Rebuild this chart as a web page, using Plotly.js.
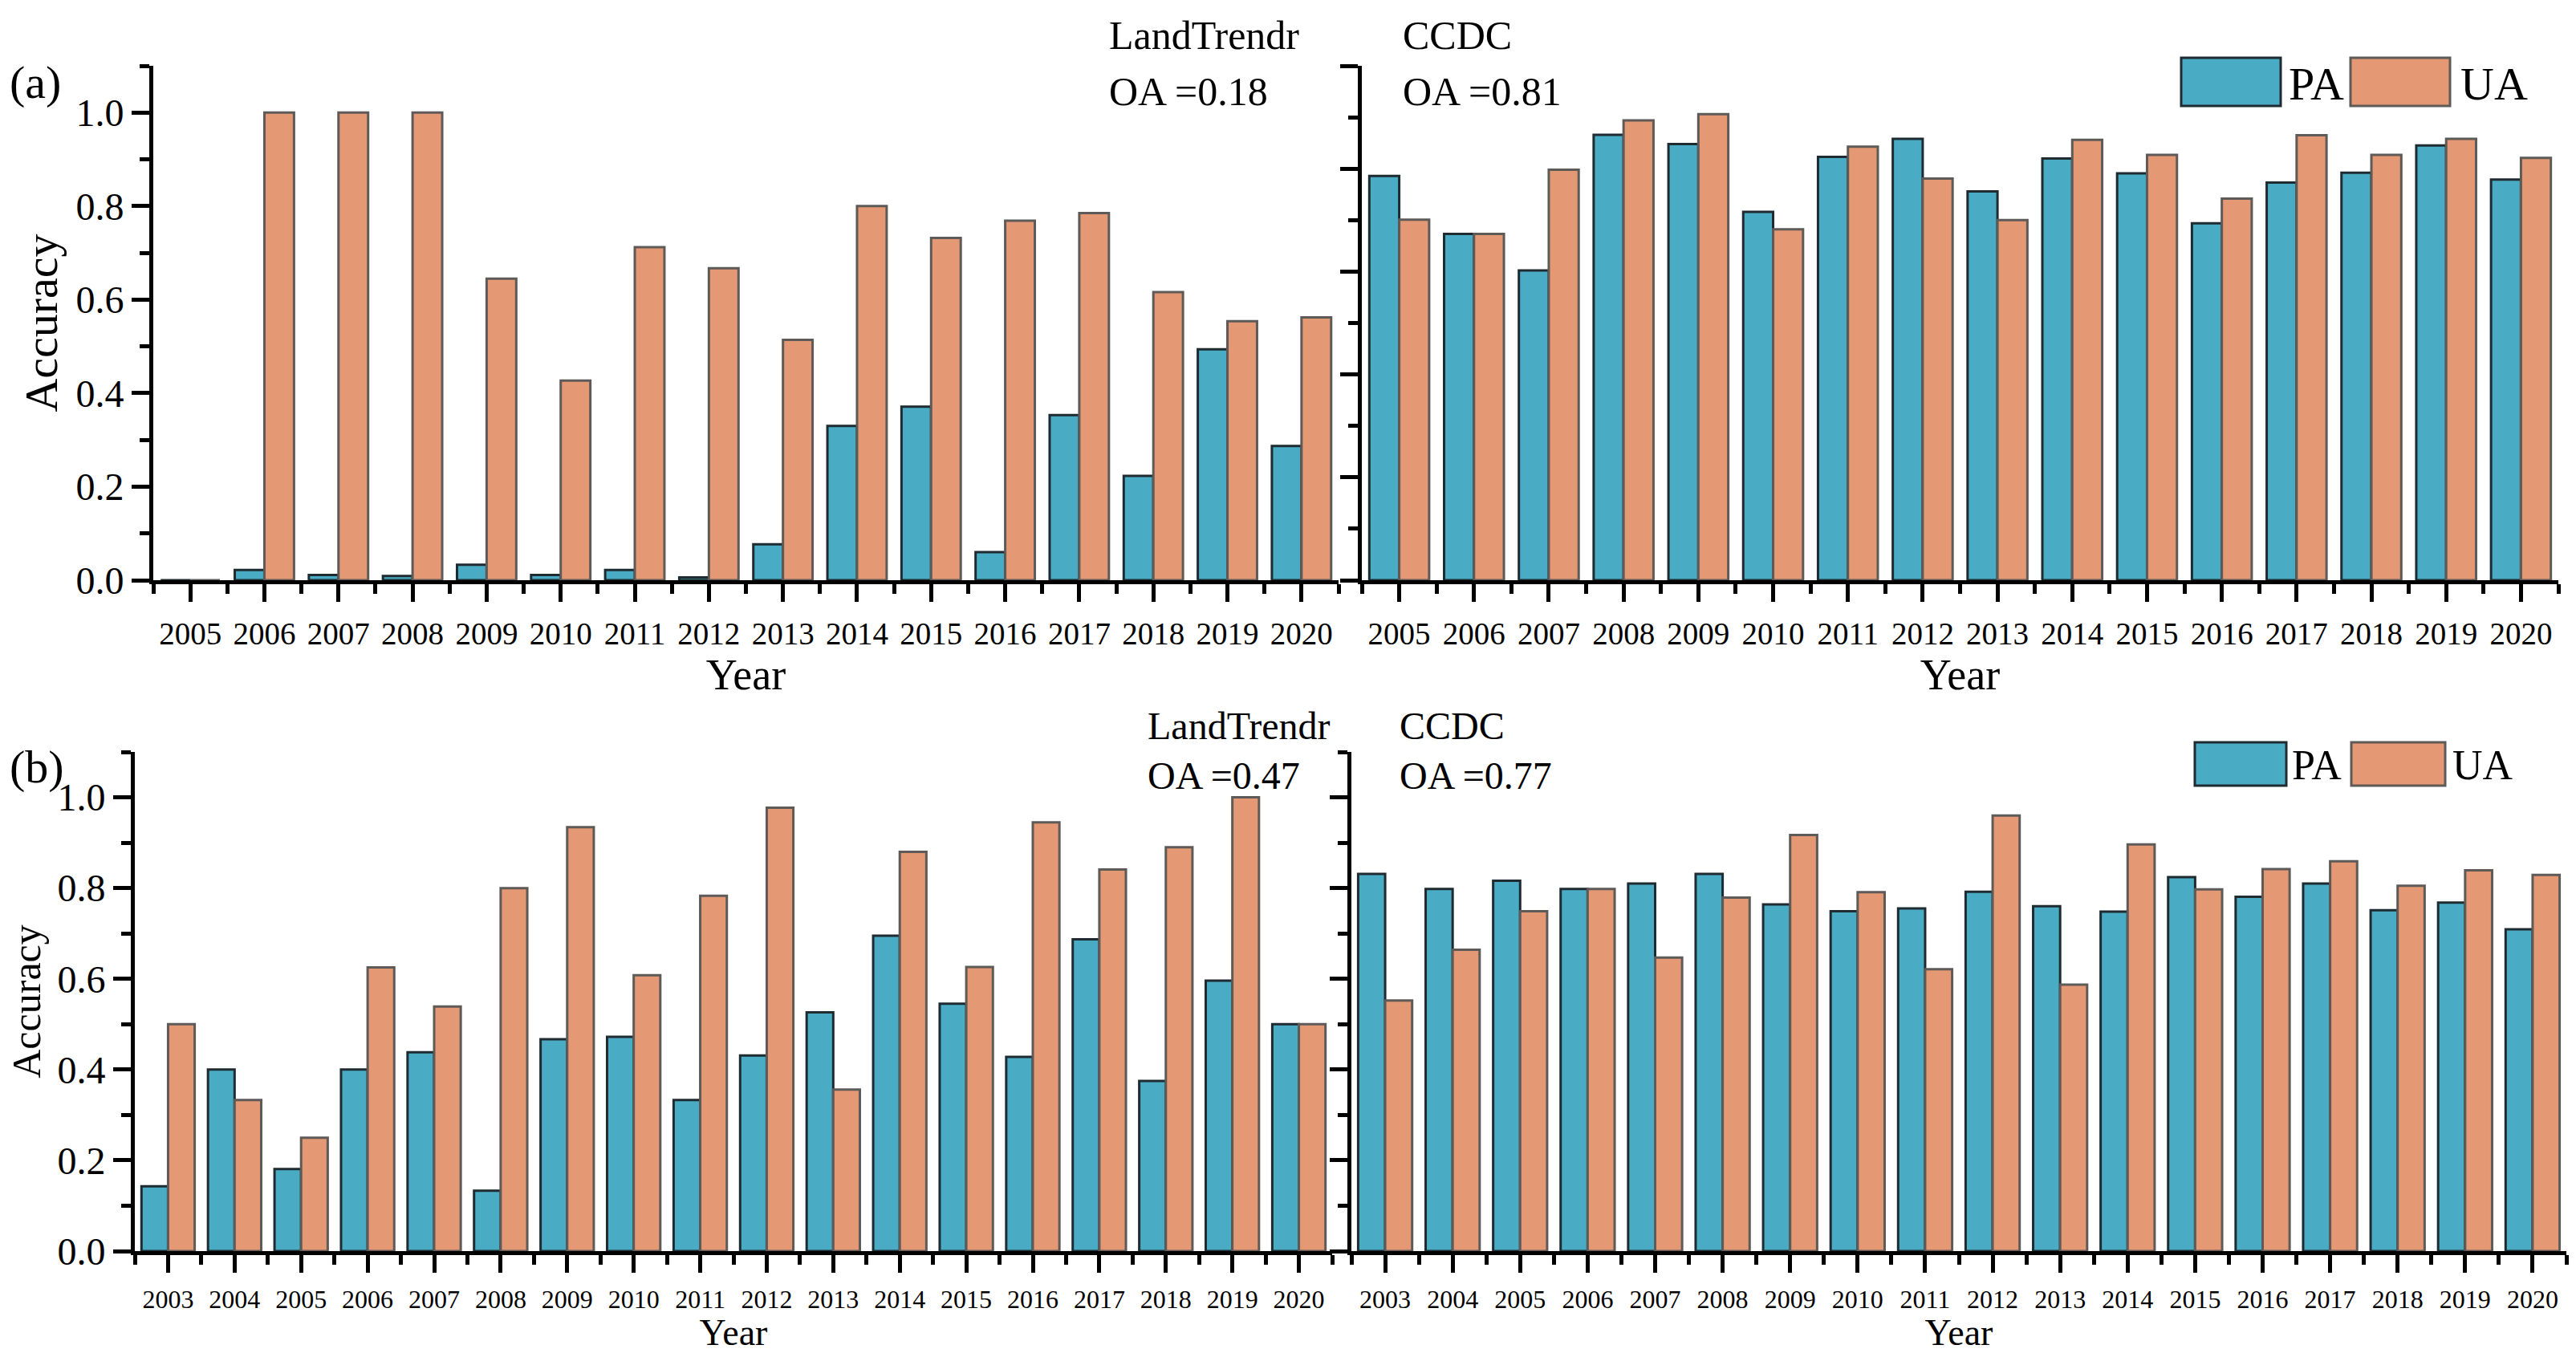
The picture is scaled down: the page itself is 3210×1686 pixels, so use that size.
<!DOCTYPE html>
<html><head><meta charset="utf-8">
<script src="https://cdn.plot.ly/plotly-3.0.1.min.js"></script>
<style>html,body{margin:0;padding:0;background:#fff}</style>
</head><body><div id="chart" style="width:3210px;height:1686px"></div>
<script>
// ---------- data ----------
const yearsA = [2005,2006,2007,2008,2009,2010,2011,2012,2013,2014,2015,2016,2017,2018,2019,2020];
const landTrendrA_PA = [0.000,0.022,0.011,0.009,0.033,0.011,0.022,0.006,0.077,0.330,0.371,0.060,0.353,0.223,0.494,0.287];
const landTrendrA_UA = [0.000,1.000,1.000,1.000,0.645,0.427,0.712,0.667,0.514,0.800,0.732,0.769,0.785,0.616,0.554,0.562];
const ccdcA_PA = [0.786,0.673,0.602,0.866,0.848,0.716,0.823,0.858,0.756,0.820,0.791,0.694,0.773,0.792,0.845,0.779];
const ccdcA_UA = [0.701,0.673,0.798,0.894,0.906,0.682,0.843,0.781,0.700,0.856,0.827,0.742,0.865,0.827,0.858,0.821];

const yearsB = [2003,2004,2005,2006,2007,2008,2009,2010,2011,2012,2013,2014,2015,2016,2017,2018,2019,2020];
const landTrendrB_PA = [0.143,0.400,0.181,0.400,0.438,0.133,0.467,0.472,0.333,0.431,0.526,0.695,0.545,0.428,0.687,0.375,0.596,0.500];
const landTrendrB_UA = [0.500,0.333,0.250,0.625,0.539,0.800,0.934,0.608,0.783,0.977,0.356,0.880,0.626,0.945,0.841,0.890,1.000,0.500];
const ccdcB_PA = [0.831,0.798,0.816,0.798,0.810,0.831,0.764,0.749,0.755,0.792,0.760,0.748,0.824,0.781,0.810,0.751,0.768,0.709];
const ccdcB_UA = [0.552,0.664,0.749,0.798,0.647,0.779,0.917,0.791,0.621,0.960,0.587,0.896,0.797,0.842,0.859,0.805,0.839,0.829];

const seriesNames = ['PA','UA'];
const panelTexts = [
  ['LandTrendr','OA =0.18'], ['CCDC','OA =0.81'],
  ['LandTrendr','OA =0.47'], ['CCDC','OA =0.77']
];
const panelLetters = ['(a)','(b)'];

// ---------- style ----------
const W = 3210, H = 1686;
const FONT = 'Liberation Serif, Times New Roman, serif';
const PA_FILL = '#4aabc5', UA_FILL = '#e49873';
const PA_EDGE = '#1e2b30', UA_EDGE = '#5e5a58';
const px = x => x / W;
const py = y => 1 - y / H;

function barTrace(x, y, name, fill, edge, xa, ya) {
  return {type:'bar', x:x, y:y, name:name, xaxis:xa, yaxis:ya, showlegend:false,
    marker:{color:fill, line:{color:edge, width:3}}, hoverinfo:'x+y+name'};
}
const data = [
  barTrace(yearsA, landTrendrA_PA, seriesNames[0], PA_FILL, PA_EDGE, 'x', 'y'),
  barTrace(yearsA, landTrendrA_UA, seriesNames[1], UA_FILL, UA_EDGE, 'x', 'y'),
  barTrace(yearsA, ccdcA_PA, seriesNames[0], PA_FILL, PA_EDGE, 'x2', 'y2'),
  barTrace(yearsA, ccdcA_UA, seriesNames[1], UA_FILL, UA_EDGE, 'x2', 'y2'),
  barTrace(yearsB, landTrendrB_PA, seriesNames[0], PA_FILL, PA_EDGE, 'x3', 'y3'),
  barTrace(yearsB, landTrendrB_UA, seriesNames[1], UA_FILL, UA_EDGE, 'x3', 'y3'),
  barTrace(yearsB, ccdcB_PA, seriesNames[0], PA_FILL, PA_EDGE, 'x4', 'y4'),
  barTrace(yearsB, ccdcB_UA, seriesNames[1], UA_FILL, UA_EDGE, 'x4', 'y4')
];

function xAxis(domain, anchor, years, tickSize, titleSize, standoff) {
  return {domain:domain, anchor:anchor, range:[years[0]-0.5, years[years.length-1]+0.5],
    tickmode:'linear', tick0:years[0], dtick:1, tickformat:'d',
    ticks:'outside', ticklen:22, tickwidth:5, tickcolor:'#000',
    minor:{ticks:'outside', tick0:years[0]-0.5, dtick:1, ticklen:12, tickwidth:5, tickcolor:'#000'},
    showline:true, linewidth:5, linecolor:'#000', showgrid:false, zeroline:false,
    ticklabelstandoff:6,
    tickfont:{family:FONT, size:tickSize, color:'#000'},
    title:{text:'Year', font:{family:FONT, size:titleSize, color:'#000'}, standoff:standoff},
    fixedrange:true};
}
function yAxis(domain, anchor, top, labels, titleSize) {
  return {domain:domain, anchor:anchor, range:[0, top],
    tickmode:'linear', tick0:0, dtick:0.2, tickformat:'.1f',
    ticks:'outside', ticklen:22, tickwidth:5, tickcolor:'#000',
    minor:{ticks:'outside', tick0:0, dtick:0.1, ticklen:12, tickwidth:5, tickcolor:'#000'},
    showline:true, linewidth:5, linecolor:'#000', showgrid:false, zeroline:false,
    showticklabels:labels,
    tickfont:{family:FONT, size:48, color:'#000'},
    title: labels ? {text:'Accuracy', font:{family:FONT, size:titleSize, color:'#000'}, standoff:6} : {text:''},
    fixedrange:true};
}

const topY = [py(723), py(82)];
const botY = [py(1559), py(937)];

const annotations = [];
function txt(text, x, y, size, anchor) {
  annotations.push({text:text, xref:'paper', yref:'paper', x:px(x), y:py(y), xanchor:anchor||'left', yanchor:'middle',
    showarrow:false, font:{family:FONT, size:size, color:'#000'}});
}
txt(panelLetters[0], 10, 103, 58);
txt(panelLetters[1], 10, 955, 58);
txt(panelTexts[0][0], 1380, 44, 50); txt(panelTexts[0][1], 1380, 114, 50);
txt(panelTexts[1][0], 1746, 44, 50); txt(panelTexts[1][1], 1746, 114, 50);
txt(panelTexts[2][0], 1428, 904, 48); txt(panelTexts[2][1], 1428, 966, 48);
txt(panelTexts[3][0], 1742, 904, 48); txt(panelTexts[3][1], 1742, 966, 48);
// legend labels
txt(seriesNames[0], 2850, 104, 58); txt(seriesNames[1], 3064, 104, 58);
txt(seriesNames[0], 2854, 954, 52); txt(seriesNames[1], 3054, 954, 52);

function box(x0, y0, x1, y1, fill, edge) {
  return {type:'rect', xref:'paper', yref:'paper', x0:px(x0), x1:px(x1), y0:py(y1), y1:py(y0),
    fillcolor:fill, line:{color:edge, width:3}, layer:'above'};
}
const shapes = [
  box(2718, 72, 2842, 132, PA_FILL, PA_EDGE), box(2929, 72, 3053, 132, UA_FILL, UA_EDGE),
  box(2735, 925, 2849, 979, PA_FILL, PA_EDGE), box(2930, 925, 3047, 979, UA_FILL, UA_EDGE)
];

const layout = {
  width:W, height:H, margin:{l:0, r:0, t:0, b:0},
  paper_bgcolor:'#fff', plot_bgcolor:'#fff',
  barmode:'group', bargap:0.2, bargroupgap:0,
  showlegend:false,
  font:{family:FONT, color:'#000'},
  xaxis: xAxis([px(191), px(1668)], 'y', yearsA, 39, 54, 12),
  yaxis: yAxis(topY, 'x', 1.1, true, 58),
  xaxis2: xAxis([px(1697), px(3188)], 'y2', yearsA, 39, 54, 12),
  yaxis2: yAxis(topY, 'x2', 1.0, false, 58),
  xaxis3: xAxis([px(168), px(1660)], 'y3', yearsB, 32, 46, 6),
  yaxis3: yAxis(botY, 'x3', 1.1, true, 50),
  xaxis4: xAxis([px(1684), px(3198)], 'y4', yearsB, 32, 46, 6),
  yaxis4: yAxis(botY, 'x4', 1.1, false, 50),
  annotations:annotations, shapes:shapes
};
Plotly.newPlot('chart', data, layout, {staticPlot:true, displayModeBar:false});
</script></body></html>
